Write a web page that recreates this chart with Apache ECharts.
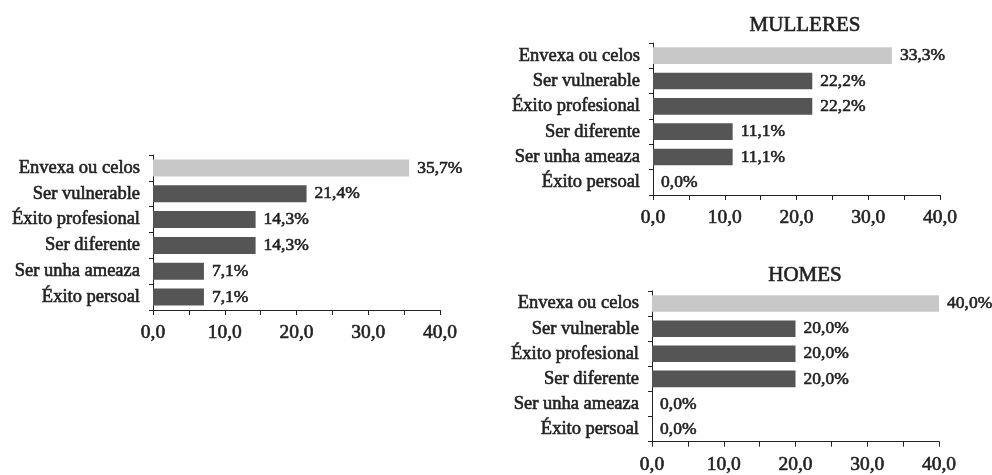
<!DOCTYPE html>
<html>
<head>
<meta charset="utf-8">
<script src="https://cdn.jsdelivr.net/npm/echarts@6/dist/echarts.min.js"></script>
<style>
  html, body { margin: 0; padding: 0; background: #fff; }
  #chart { width: 992px; height: 475px; }
</style>
</head>
<body>
<div id="chart"></div>
<script>
// categorías (de arriba a abaixo)
const categories = ["Envexa ou celos", "Ser vulnerable", "Éxito profesional", "Ser diferente", "Ser unha ameaza", "Éxito persoal"];
const totalValues = [35.7, 21.4, 14.3, 14.3, 7.1, 7.1];
const mulleresValues = [33.3, 22.2, 22.2, 11.1, 11.1, 0.0];
const homesValues = [40.0, 20.0, 20.0, 20.0, 0.0, 0.0];
const panelTitles = ["MULLERES", "HOMES"];

const FONT = "Liberation Serif";
const TEXT = "#222222";
const DARK = "#555555";
const LIGHT = "#c8c8c8";

const fmt = (v) => v.toFixed(1).replace(".", ",");

// texto algo máis groso, coma no impreso
const ink = { textBorderColor: TEXT, textBorderWidth: 0.6 };

const grids = [
  { left: 153, top: 155, width: 287, height: 155 },
  { left: 653, top: 43, width: 287, height: 152 },
  { left: 652, top: 291, width: 287, height: 152 },
];

function xAxis(i) {
  return {
    type: "value",
    gridIndex: i,
    min: 0,
    max: 40,
    interval: 10,
    splitLine: { show: false },
    axisLine: { show: true, lineStyle: { color: TEXT, width: 1 } },
    axisTick: { show: true, length: 5, lineStyle: { color: TEXT } },
    minorTick: { show: true, splitNumber: 2, length: 5, lineStyle: { color: TEXT } },
    axisLabel: Object.assign({
      color: TEXT, fontFamily: FONT, fontSize: 19.5, margin: 13,
      formatter: (v) => fmt(v),
    }, ink),
  };
}

function yAxis(i) {
  return {
    type: "category",
    gridIndex: i,
    data: categories,
    inverse: true,
    axisLine: { show: true, lineStyle: { color: TEXT, width: 1 } },
    axisTick: { show: true, length: 4, lineStyle: { color: TEXT } },
    axisLabel: Object.assign({ color: TEXT, fontFamily: FONT, fontSize: 18.5, margin: 13 }, ink),
  };
}

function series(i, values) {
  return {
    type: "bar",
    xAxisIndex: i,
    yAxisIndex: i,
    barCategoryGap: "34%",
    data: values.map((v, k) => ({
      value: v,
      itemStyle: { color: k === 0 ? LIGHT : DARK },
    })),
    label: Object.assign({
      show: true,
      position: "right",
      distance: 8,
      color: TEXT,
      fontFamily: FONT,
      fontSize: 17.5,
      formatter: (p) => fmt(p.value) + "%",
    }, ink),
  };
}

const chart = echarts.init(document.getElementById("chart"));
chart.setOption({
  animation: false,
  backgroundColor: "#fff",
  title: [
    { text: panelTitles[0], left: 800, top: 10, textAlign: "center",
      textStyle: Object.assign({ fontFamily: FONT, fontSize: 21, fontWeight: "normal", color: TEXT }, ink) },
    { text: panelTitles[1], left: 800, top: 260, textAlign: "center",
      textStyle: Object.assign({ fontFamily: FONT, fontSize: 21, fontWeight: "normal", color: TEXT }, ink) },
  ],
  grid: grids,
  xAxis: [xAxis(0), xAxis(1), xAxis(2)],
  yAxis: [yAxis(0), yAxis(1), yAxis(2)],
  series: [series(0, totalValues), series(1, mulleresValues), series(2, homesValues)],
});
</script>
</body>
</html>
